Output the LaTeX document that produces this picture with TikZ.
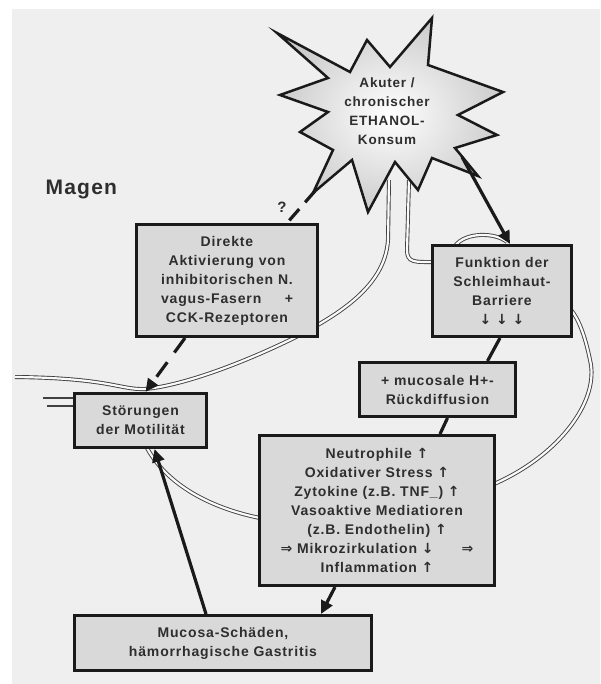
\documentclass[tikz,border=0pt]{standalone}
\usepackage{fontspec}
\setmainfont{Liberation Sans}
\newfontfamily\lab{Liberation Sans}[LetterSpace=6]
\newfontfamily\symf{DejaVu Sans}
\usetikzlibrary{arrows.meta,calc}
\definecolor{bg}{HTML}{EFEFEF}
\definecolor{boxfill}{HTML}{D9D9D9}
\definecolor{ink}{HTML}{2E2E2E}
\definecolor{edge}{HTML}{1A1A1A}
\definecolor{wallc}{HTML}{404040}
\newcommand{\arrU}{{\symf\char"2191}}
\newcommand{\arrD}{{\symf\char"2193}}
\newcommand{\arrR}{{\symf\char"21D2}}
\begin{document}
\begin{tikzpicture}[x=1pt,y=-1pt,
  box/.style={draw=edge, line width=3pt, fill=boxfill, align=center, text=ink,
    font=\lab\bfseries\fontsize{14}{19}\selectfont, inner sep=0pt},
  flow/.style={draw=edge, line width=3.2pt, -{Triangle[length=13pt,width=12pt]}},
  link/.style={draw=edge, line width=3.2pt},
  dflow/.style={flow, dash pattern=on 18pt off 12pt},
  wall/.style={draw=wallc, line width=0.9pt, double=white!70!bg, double distance=2.2pt},
]
\useasboundingbox (0,0) rectangle (600,684);
\fill[white] (0,0) rectangle (600,684);
\fill[bg] (12,9) rectangle (600,684);

% stomach outline (double lines)
\draw[wall] (389,180) -- (388,240) .. controls (385,290) and (330,318) .. (300,335)
  .. controls (240,365) and (180,386) .. (145,389) .. controls (120,390) and (110,378) .. (15,377);
\draw[wall] (409,180) -- (407,250) .. controls (407,263) and (415,262) .. (433,262);
\draw[wall] (455,246) .. controls (465,232) and (495,232) .. (507,242);
\draw[wall] (147,448) .. controls (170,490) and (220,510) .. (260,518);
\draw[wall] (494,484) .. controls (560,455) and (600,400) .. (590,360)
  .. controls (585,335) and (578,318) .. (571,310);
\draw[wallc, line width=1.2pt] (43,398) -- (74,398);
\draw[wallc, line width=1.2pt] (47,406) -- (74,406);

% starburst
\shade[inner color=white, outer color=gray!40, draw=edge, line width=2.5pt, line join=miter]
  (277,33) -- (350,72) -- (367,40) -- (390,67) -- (432,18) -- (428,65) -- (503,92)
  -- (458,115) -- (497,135) -- (455,148) -- (478,176) -- (432,158) -- (418,190)
  -- (395,162) -- (368,212) -- (352,160) -- (313,193) -- (333,150) -- (300,132)
  -- (328,112) -- (280,95) -- (328,78) -- cycle;
\node[align=center, text=ink, font=\lab\bfseries\fontsize{13.5}{19}\selectfont] (star) at (387,111)
  {Akuter /\\chronischer\\ETHANOL-\\Konsum};
\coordinate (sA) at (462,157);
\coordinate (sB) at (315,191);

\node[font=\lab\bfseries\fontsize{21}{24}\selectfont, text=ink, anchor=west] (mag) at (42,190) {Magen};

% boxes
\node[box, minimum width=181pt, minimum height=112pt] (dir) at (227,280.5)
  {Direkte\\Aktivierung von\\inhibitorischen N.\\vagus-Fasern\quad\ \ +\\CCK-Rezeptoren};
\node[box, minimum width=139pt, minimum height=91pt] (fun) at (502,291)
  {Funktion der\\Schleimhaut-\\Barriere\\\arrD\ \arrD\ \arrD};
\node[box, minimum width=156pt, minimum height=54pt] (muc) at (437.5,389.5)
  {+ mucosale H+-\\Rückdiffusion};
\node[box, minimum width=132pt, minimum height=54pt] (sto) at (140.5,420.5)
  {Störungen\\der Motilität};
\node[box, minimum width=235pt, minimum height=150pt] (neu) at (377,510.5)
  {Neutrophile \arrU\\Oxidativer Stress \arrU\\Zytokine (z.B. TNF\_) \arrU\\Vasoaktive Mediatioren\\(z.B. Endothelin) \arrU\\\arrR\ Mikrozirkulation \arrD\qquad\arrR\\Inflammation \arrU};
\node[box, minimum width=297pt, minimum height=55pt] (muco) at (223,643)
  {Mucosa-Schäden,\\hämorrhagische Gastritis};

% connectors
\draw[flow] (sA) -- ($(fun.north)+(8,0)$);
\draw[link, dash pattern=on 15pt off 9pt] (sB) -- ($(dir.north)+(60,0)$);
\node[font=\lab\bfseries\fontsize{15}{18}\selectfont, text=ink] (q) at (282,207) {?};
\draw[dflow] ($(dir.south)+(-42,0)$) -- ($(sto.north)+(5,0)$);
\draw[link] ($(fun.south)+(-2,0)$) -- ($(muc.north)+(50,0)$);
\draw[link] ($(muc.south)+(10,0)$) -- ($(neu.north)+(63,0)$);
\draw[flow] ($(neu.south)+(-42,0)$) -- ($(muco.north)+(98,0)$);
\draw[flow] ($(muco.north)+(-17,0)$) -- ($(sto.south)+(14,0)$);
\end{tikzpicture}
\end{document}
